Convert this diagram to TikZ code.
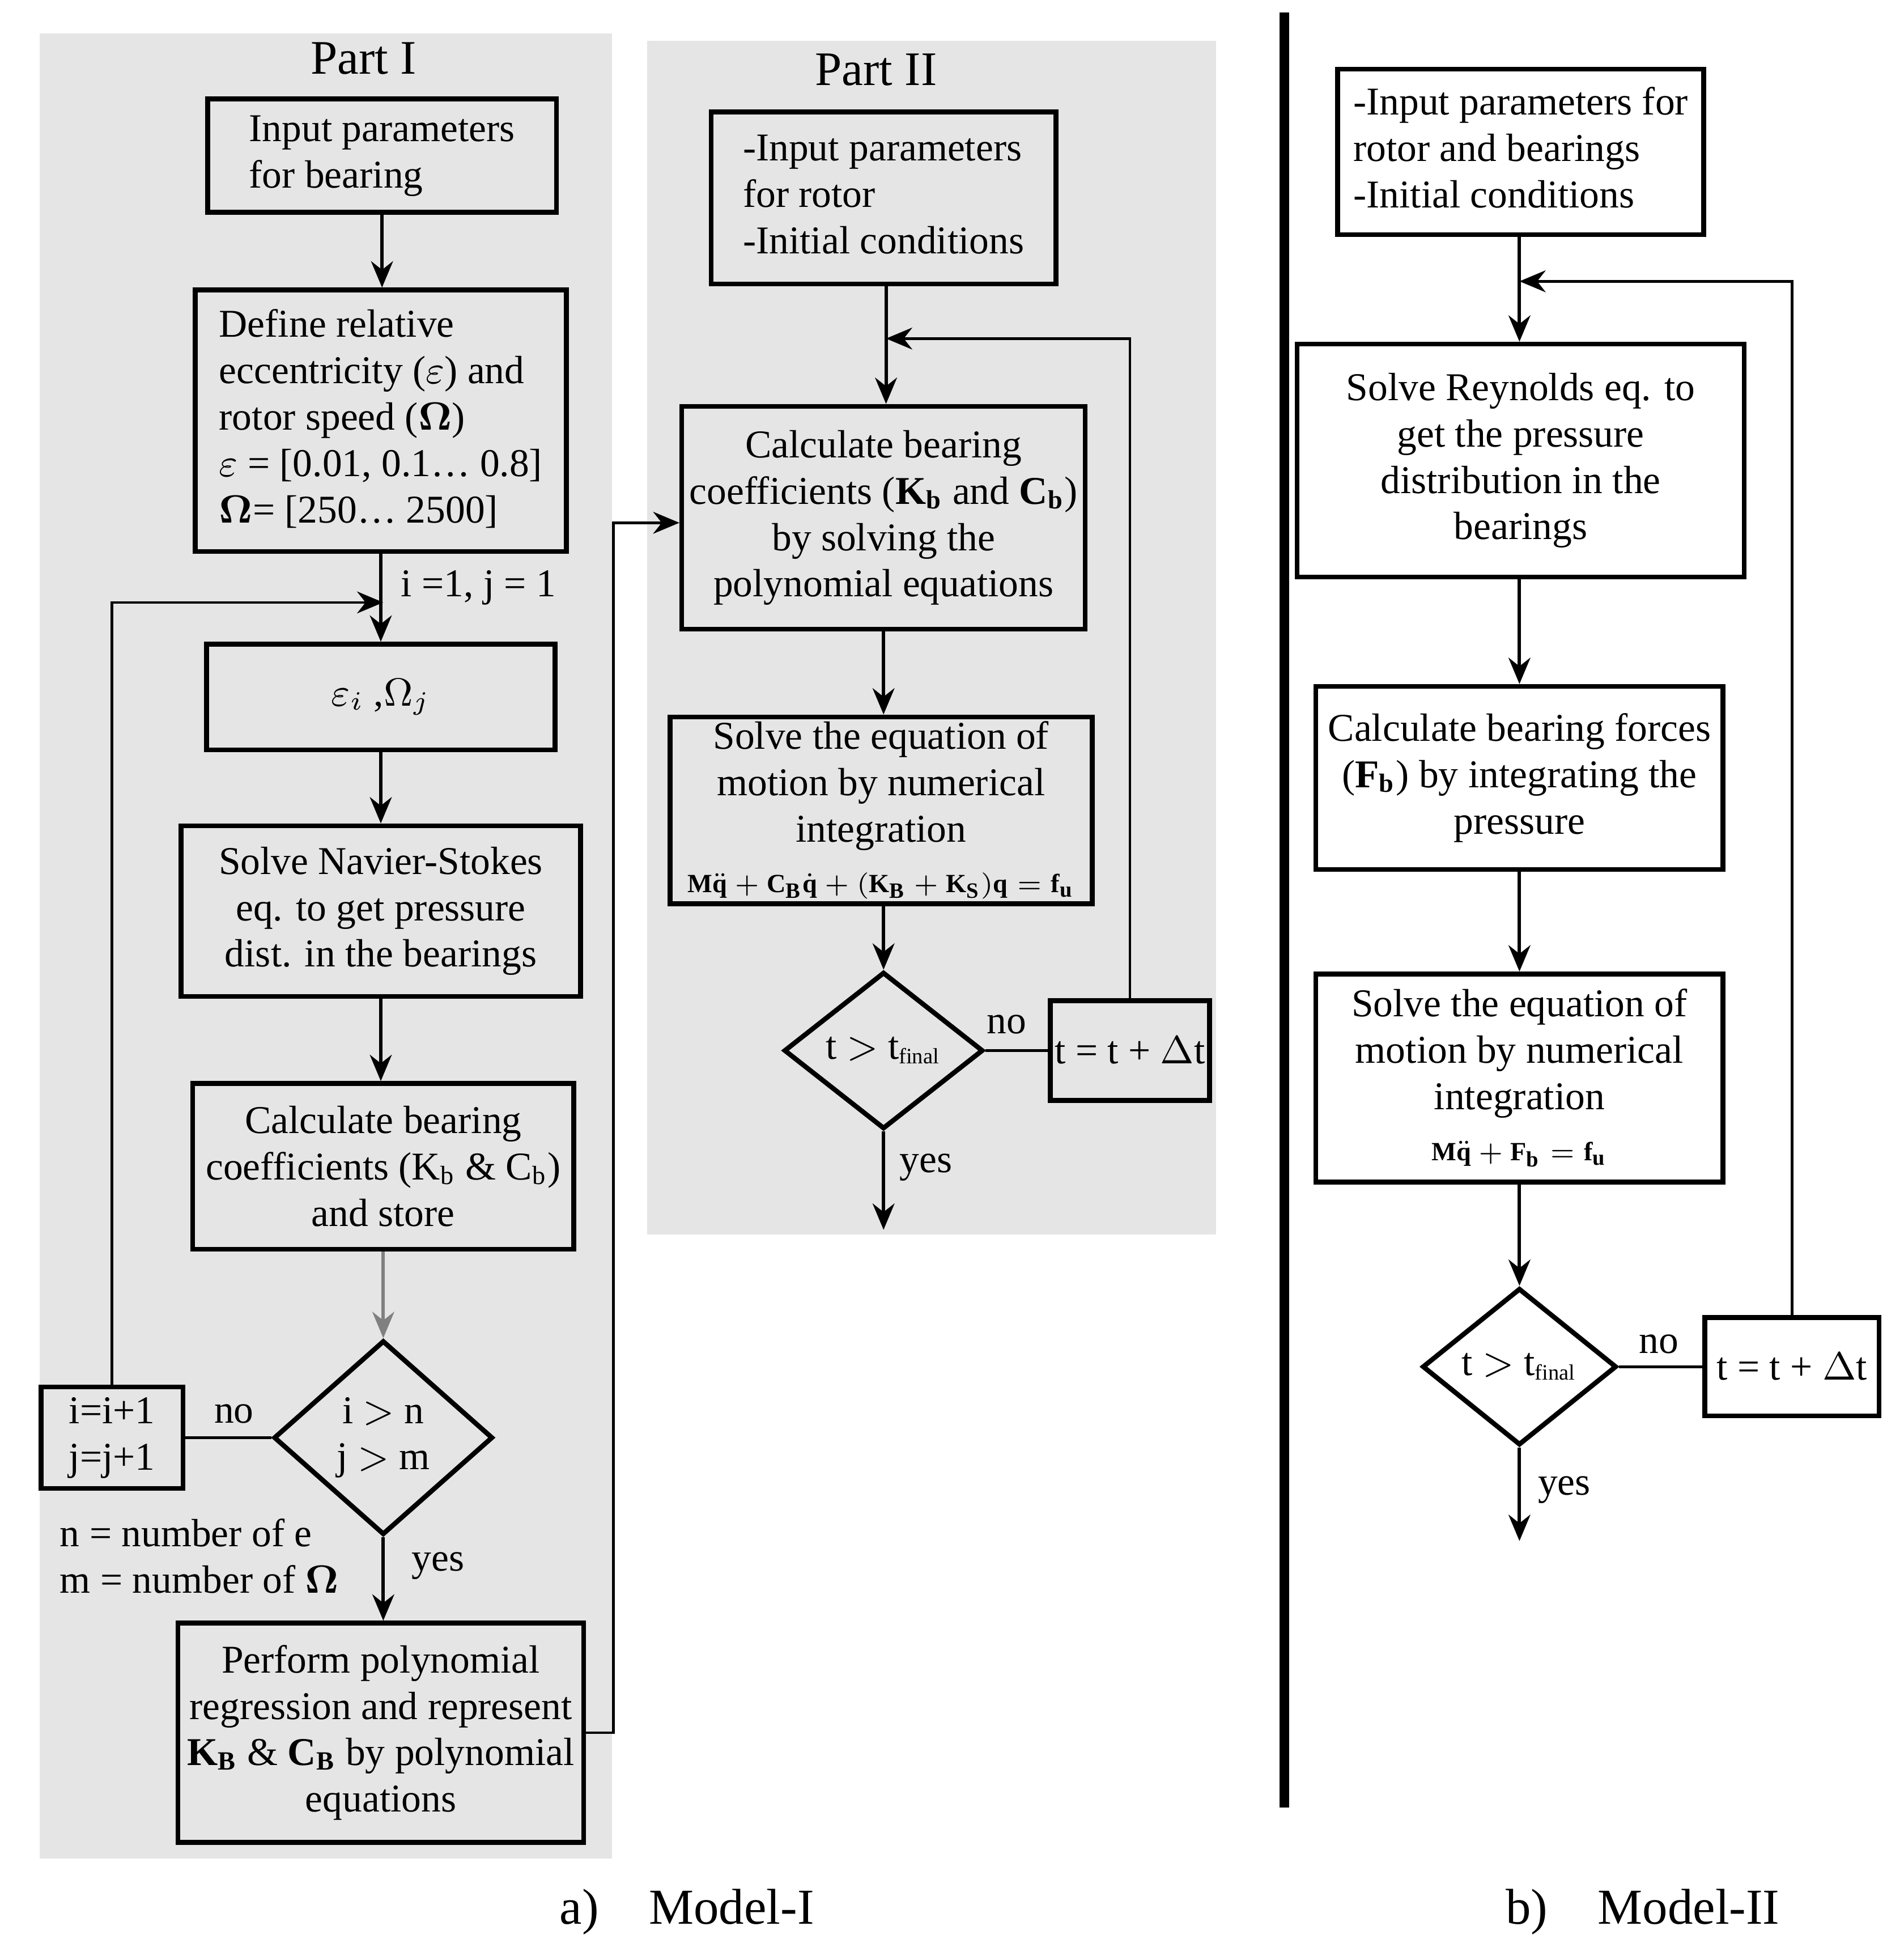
\documentclass[tikz,border=0pt]{standalone}
\usepackage{fontspec}
\usepackage{amsmath}
\setmainfont{Liberation Serif}
\usetikzlibrary{shapes.geometric,arrows.meta}
\newcommand{\bq}{\mathbf{q}}
\begin{document}
\begin{tikzpicture}[x=0.01cm,y=-0.01cm,
  every node/.style={font=\fontsize{9}{10.6}\selectfont},
  box/.style={draw,line width=1.1pt,align=center,inner sep=1pt},
  dia/.style={draw,diamond,line width=1.1pt,aspect=1.3,inner sep=1pt,align=center},
  arr/.style={-{Stealth[length=6pt,width=5pt]},line width=0.8pt},
  ln/.style={line width=0.6pt},
  lbl/.style={inner sep=1pt}]
\useasboundingbox (0,0) rectangle (1530,1561);
\fill[gray!20] (32,27) rectangle (492,1493);
\fill[gray!20] (520,33) rectangle (977,992);
\fill (1028,10) rectangle (1036,1452);
\node[lbl] (p1) at (292,47) {\fontsize{11}{12}\selectfont Part I};
\node[lbl] (p2) at (704,56) {\fontsize{11}{12}\selectfont Part II};
% Part I
\node[box,minimum width=2.80cm,minimum height=0.91cm] (b1) at (307,125) {\begin{tabular}{@{}l@{}}Input parameters\\for bearing\end{tabular}};
\node[box,minimum width=2.98cm,minimum height=2.10cm] (b2) at (306,338) {\begin{tabular}{@{}l@{}}Define relative\\eccentricity ($\varepsilon$) and\\rotor speed ($\boldsymbol{\Omega}$)\\$\varepsilon$ = [0.01, 0.1\dots\ 0.8]\\$\boldsymbol{\Omega}$= [250\dots\ 2500]\end{tabular}};
\node[box,minimum width=2.80cm,minimum height=0.85cm] (b3) at (306,560) {$\varepsilon_i$ ,$\Omega_j$};
\node[box,minimum width=3.21cm,minimum height=1.37cm] (b4) at (306,732) {Solve Navier-Stokes\\eq. to get pressure\\dist. in the bearings};
\node[box,minimum width=3.06cm,minimum height=1.33cm] (b5) at (308,937) {Calculate bearing\\coefficients (K$_\mathrm{b}$ \& C$_\mathrm{b}$)\\and store};
\node[dia,minimum width=1.76cm,minimum height=1.56cm] (d1) at (308,1155) {i $>$ n\\j $>$ m};
\node[box,minimum width=1.14cm,minimum height=0.80cm] (b6) at (90,1155) {\begin{tabular}{@{}l@{}}i=i+1\\j=j+1\end{tabular}};
\node[box,minimum width=3.26cm,minimum height=1.76cm] (b7) at (306,1392) {Perform polynomial\\regression and represent\\$\mathbf{K_B}$ \& $\mathbf{C_B}$ by polynomial\\equations};
\node[lbl,anchor=west] (l1) at (318,472) {i =1, j = 1};
\node[lbl] (l2) at (188,1136) {no};
\node[lbl] (l3) at (352,1258) {yes};
\node[lbl,anchor=west,align=left] (l4) at (44,1250) {n = number of e\\m = number of $\boldsymbol{\Omega}$};
\coordinate (m1) at (308,484);
\draw[arr] (b1) -- (b2.north -| b1);
\draw[arr] (b2.south -| b3) -- (b3);
\draw[arr] (b3) -- (b4);
\draw[arr] (b4) -- (b5.north -| b4);
\draw[arr,gray] (b5.south -| d1) -- (d1.north);
\draw[ln] (d1.west) -- (b6.east);
\draw[arr,ln] (b6.north) |- (m1);
\draw[arr] (d1.south) -- (b7.north -| d1);
% Part II
\node[box,minimum width=2.77cm,minimum height=1.38cm] (b9) at (710,159) {\begin{tabular}{@{}l@{}}-Input parameters\\for rotor\\-Initial conditions\end{tabular}};
\node[box,minimum width=3.24cm,minimum height=1.79cm] (b10) at (710,416) {Calculate bearing\\coefficients ($\mathbf{K_b}$ and $\mathbf{C_b}$)\\by solving the\\polynomial equations};
\node[box,minimum width=3.39cm,minimum height=1.50cm] (b11) at (708,651) {Solve the equation of\\motion by numerical\\integration\\[1pt]{\fontsize{6}{7}\selectfont$\mathbf{M}\ddot{\bq} + \mathbf{C_B}\dot{\bq} + (\mathbf{K_B} + \mathbf{K_S})\bq = \mathbf{f_u}$}};
\node[dia,minimum width=1.60cm,minimum height=1.26cm] (d2) at (710,844) {t $>$ t$_{\text{\tiny final}}$};
\node[box,minimum width=1.24cm,minimum height=0.80cm] (b12) at (908,844) {t = t + $\Delta$t};
\node[lbl] (l5) at (809,823) {no};
\node[lbl] (l6) at (744,938) {yes};
\coordinate (m2) at (712,272);
\coordinate (e2) at (710,988);
\coordinate (s1) at (493,420);
\draw[arr] (b9.south -| m2) -- (b10.north -| m2);
\draw[arr] (b10) -- (b11.north -| b10);
\draw[arr] (b11.south -| d2) -- (d2.north);
\draw[ln] (d2.east) -- (b12.west);
\draw[arr,ln] (b12.north) |- (m2);
\draw[arr] (d2.south) -- (e2);
\draw[arr,ln] (b7.east) -| (s1) -- (b10.west |- s1);
% Model II
\node[box,minimum width=2.94cm,minimum height=1.33cm] (b13) at (1222,122) {\begin{tabular}{@{}l@{}}-Input parameters for\\rotor and bearings\\-Initial conditions\end{tabular}};
\node[box,minimum width=3.59cm,minimum height=1.87cm] (b14) at (1222,370) {Solve Reynolds eq. to\\get the pressure\\distribution in the\\bearings};
\node[box,minimum width=3.27cm,minimum height=1.47cm] (b15) at (1221,625) {Calculate bearing forces\\($\mathbf{F_b}$) by integrating the\\pressure};
\node[box,minimum width=3.27cm,minimum height=1.67cm] (b16) at (1221,866) {Solve the equation of\\motion by numerical\\integration\\[1pt]{\fontsize{6}{7}\selectfont$\mathbf{M}\ddot{\bq} + \mathbf{F_b} = \mathbf{f_u}$}};
\node[dia,minimum width=1.56cm,minimum height=1.26cm] (d3) at (1221,1098) {t $>$ t$_{\text{\tiny final}}$};
\node[box,minimum width=1.40cm,minimum height=0.79cm] (b17) at (1440,1098) {t = t + $\Delta$t};
\node[lbl] (l7) at (1333,1080) {no};
\node[lbl] (l8) at (1257,1197) {yes};
\coordinate (m3) at (1221,226);
\coordinate (e3) at (1221,1238);
\draw[arr] (b13.south -| m3) -- (b14.north -| m3);
\draw[arr] (b14.south -| b15) -- (b15.north);
\draw[arr] (b15) -- (b16);
\draw[arr] (b16) -- (d3.north);
\draw[ln] (d3.east) -- (b17.west);
\draw[arr,ln] (b17.north) |- (m3);
\draw[arr] (d3.south) -- (e3);
\node[lbl] (c1) at (552,1536) {\fontsize{11.5}{13}\selectfont a)\quad Model-I};
\node[lbl] (c2) at (1320,1536) {\fontsize{11.5}{13}\selectfont b)\quad Model-II};
\end{tikzpicture}
\end{document}
